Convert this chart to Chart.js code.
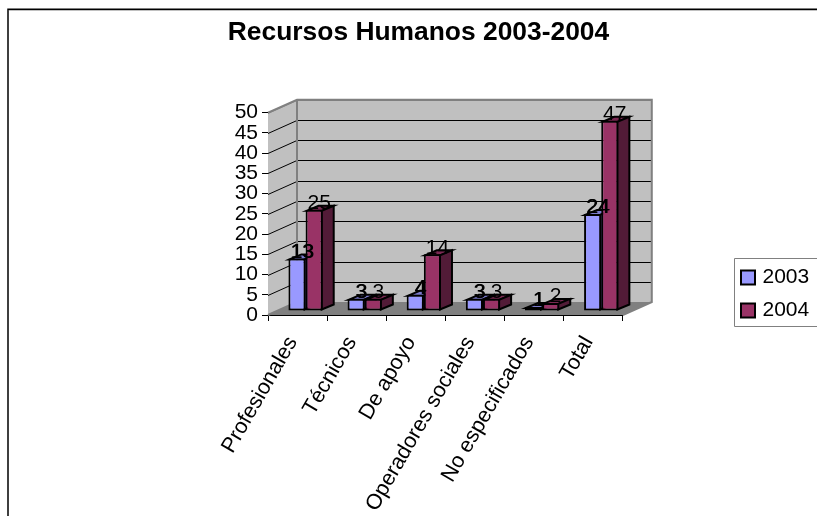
<!DOCTYPE html>
<html><head><meta charset="utf-8">
<style>html,body{margin:0;padding:0;background:#fff}#w{position:relative;width:817px;height:516px}canvas{display:block}</style>
<script src="https://cdn.jsdelivr.net/npm/chart.js@4"></script></head>
<body><div id="w"><canvas id="c" width="817" height="516"></canvas></div>
<script>
const categories = ["Profesionales","Técnicos","De apoyo","Operadores sociales","No especificados","Total"];
const values2003 = [13,3,4,3,1,24];
const values2004 = [25,3,14,3,2,47];
const yTicksMax = 50, yTicksStep = 5;
const FONT = '"Liberation Sans", Arial, sans-serif';
const WALL = {dx:29, dy:-13};
const BAR = {ox:8, oy:-4, dx:12, dy:-5};
function shade(hex){return hex==='#9999ff'?['#9999ff','#7a7acc','#4d4d80']:['#993366','#7a2952','#521b37'];}
const scene = {
  id:'scene',
  afterLayout(chart){
    const l=chart.legend; l.left=732;l.right=815;l.top=255;l.bottom=420;
    const t=chart.titleBlock; t.left=20;t.right=817;t.top=17;
  },
  beforeDatasetsDraw(chart){
    const {ctx,scales:{x,y},chartArea:a}=chart;
    const L=a.left,R=a.right,T=a.top,B=a.bottom,dx=WALL.dx,dy=WALL.dy;
    ctx.save();
    ctx.fillStyle='#c0c0c0';
    ctx.beginPath();ctx.moveTo(L,T);ctx.lineTo(L+dx,T+dy);ctx.lineTo(R+dx,T+dy);ctx.lineTo(R+dx,B+dy);ctx.lineTo(L+dx,B+dy);ctx.lineTo(L,B);ctx.closePath();ctx.fill();
    ctx.fillStyle='#808080';
    ctx.beginPath();ctx.moveTo(L,B);ctx.lineTo(L+dx,B+dy);ctx.lineTo(R+dx,B+dy);ctx.lineTo(R,B);ctx.closePath();ctx.fill();
    ctx.strokeStyle='#000';ctx.lineWidth=1;
    y.ticks.forEach(t=>{
      if(t.value===0)return;
      const p=Math.round(y.getPixelForValue(t.value))+0.5;
      ctx.beginPath();ctx.moveTo(L,p);ctx.lineTo(L+dx,p+dy);ctx.lineTo(R+dx,p+dy);
      ctx.strokeStyle=t.value===yTicksMax?'#808080':'#000';ctx.stroke();
    });
    ctx.strokeStyle='#808080';ctx.lineWidth=2;
    ctx.beginPath();ctx.moveTo(L,T);ctx.lineTo(L+dx,T+dy);ctx.lineTo(R+dx,T+dy);ctx.lineTo(R+dx,B+dy);ctx.lineTo(R,B);ctx.stroke();
    ctx.beginPath();ctx.moveTo(L+dx,T+dy);ctx.lineTo(L+dx,B+dy);ctx.lineTo(L,B);ctx.stroke();
    ctx.lineWidth=2;ctx.strokeStyle='#000';ctx.lineJoin='miter';
    chart.data.datasets.forEach((ds,i)=>{
      const meta=chart.getDatasetMeta(i);
      const [,top,side]=shade(ds.backgroundColor);
      meta.data.forEach(b=>{
        const x0=b.x-b.width/2+BAR.ox+1,x1=b.x+b.width/2+BAR.ox-1,yt=b.y+BAR.oy+1,yb=b.base+BAR.oy-1;
        ctx.fillStyle=top;ctx.beginPath();ctx.moveTo(x0,yt);ctx.lineTo(x0+BAR.dx,yt+BAR.dy);ctx.lineTo(x1+BAR.dx,yt+BAR.dy);ctx.lineTo(x1,yt);ctx.closePath();ctx.fill();ctx.stroke();
        ctx.fillStyle=side;ctx.beginPath();ctx.moveTo(x1,yt);ctx.lineTo(x1+BAR.dx,yt+BAR.dy);ctx.lineTo(x1+BAR.dx,yb+BAR.dy);ctx.lineTo(x1,yb);ctx.closePath();ctx.fill();ctx.stroke();
      });
    });
    ctx.restore();
    ctx.save();ctx.translate(BAR.ox,BAR.oy);
  },
  afterDatasetsDraw(chart){
    const {ctx}=chart;
    ctx.restore();
    ctx.save();
    ctx.font='21px '+FONT;ctx.fillStyle='#000';ctx.textAlign='center';ctx.textBaseline='middle';
    chart.data.datasets.forEach((ds,i)=>{
      chart.getDatasetMeta(i).data.forEach((b,j)=>{
        const s=String(ds.data[j]),X=b.x+BAR.ox+5,Y=b.y+BAR.oy-6.5;
        ctx.fillText(s,X,Y);
        if(i===0)ctx.fillText(s,X+0.8,Y);
      });
    });
    ctx.restore();
  },
  afterDraw(chart){
    const {ctx}=chart;
    ctx.save();
    ctx.strokeStyle='#c0c0c0';ctx.lineWidth=1;
    ctx.beginPath();ctx.moveTo(9,10.5);ctx.lineTo(817,10.5);ctx.stroke();
    ctx.strokeStyle='#000';ctx.lineWidth=1.5;
    ctx.beginPath();ctx.moveTo(8,516);ctx.lineTo(8,9.25);ctx.lineTo(817,9.25);ctx.stroke();
    ctx.strokeStyle='#808080';ctx.lineWidth=1;
    ctx.beginPath();ctx.moveTo(817,258.5);ctx.lineTo(734.5,258.5);ctx.lineTo(734.5,326.5);ctx.lineTo(817,326.5);ctx.stroke();
    ctx.restore();
  }
};
new Chart(document.getElementById('c'),{
  type:'bar',
  data:{labels:categories,datasets:[
    {label:'2003',data:values2003,backgroundColor:'#9999ff',borderColor:'#000',borderWidth:2,borderSkipped:false,clip:false},
    {label:'2004',data:values2004,backgroundColor:'#993366',borderColor:'#000',borderWidth:2,borderSkipped:false,clip:false}
  ]},
  options:{
    responsive:false,animation:false,
    layout:{padding:{top:0,left:0,right:107,bottom:0}},
    datasets:{bar:{categoryPercentage:0.58,barPercentage:1}},
    scales:{
      x:{position:'bottom',
        afterFit(s){s.height=201;},
        grid:{drawOnChartArea:false,drawTicks:true,tickLength:6,color:'#000',offset:true},
        border:{display:true,color:'#000',width:1},
        ticks:{maxRotation:60,minRotation:60,autoSkip:false,padding:11,labelOffset:-5,color:'#000',font:{family:FONT,size:21.5}}},
      y:{min:0,max:yTicksMax,position:'left',
        afterFit(s){s.width=268;},
        grid:{drawOnChartArea:false,drawTicks:true,tickLength:6,color:'#000'},
        border:{display:true,color:'#000',width:1},
        ticks:{stepSize:yTicksStep,autoSkip:false,padding:4,color:'#000',font:{family:FONT,size:21}}}
    },
    plugins:{
      tooltip:{enabled:false},
      title:{display:true,text:'Recursos Humanos 2003-2004',color:'#000',font:{family:FONT,size:26.4,weight:'bold'},padding:{top:0,bottom:81}},
      legend:{display:true,position:'right',align:'start',labels:{usePointStyle:true,pointStyle:'rect',boxWidth:8,boxHeight:14,color:'#000',font:{family:FONT,size:21},padding:12}}
    }
  },
  plugins:[scene]
});
</script></body></html>
